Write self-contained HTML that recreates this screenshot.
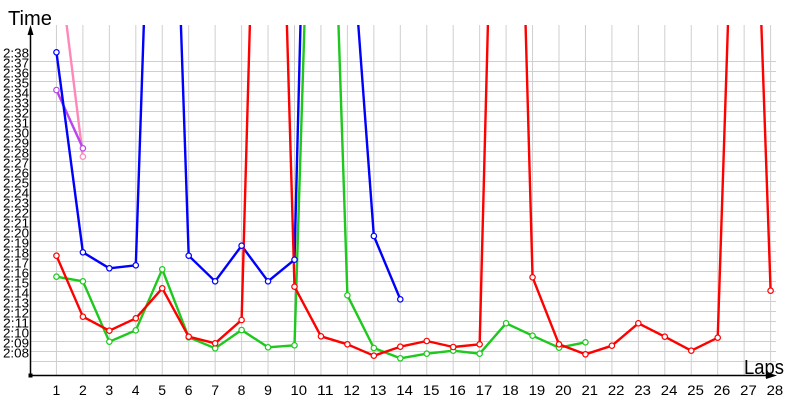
<!DOCTYPE html>
<html>
<head>
<meta charset="utf-8">
<style>
html,body{margin:0;padding:0;background:#fff;}
svg{display:block;}
text{font-family:"Liberation Sans",Arial,sans-serif;fill:#000;}
</style>
</head>
<body>
<svg width="800" height="400" viewBox="0 0 800 400" xmlns="http://www.w3.org/2000/svg">
<defs>
<clipPath id="plot"><rect x="30" y="25" width="770" height="351"/></clipPath>
</defs>
<rect x="0" y="0" width="800" height="400" fill="#fff"/>
<g stroke="#cfcfcf" stroke-width="1" fill="none">
<path d="M56.45 25V375M82.9 25V375M109.35 25V375M135.8 25V375M162.25 25V375M188.7 25V375M215.15 25V375M241.6 25V375M268.05 25V375M294.5 25V375M320.95 25V375M347.4 25V375M373.85 25V375M400.3 25V375M426.75 25V375M453.2 25V375M479.65 25V375M506.1 25V375M532.55 25V375M559 25V375M585.45 25V375M611.9 25V375M638.35 25V375M664.8 25V375M691.25 25V375M717.7 25V375M744.15 25V375M770.6 25V375"/>
<path d="M30 61.5H776M30 71.5H776M30 81.5H776M30 91.5H776M30 101.5H776M30 111.5H776M30 121.5H776M30 131.5H776M30 141.5H776M30 151.5H776M30 161.5H776M30 171.5H776M30 181.5H776M30 191.5H776M30 201.5H776M30 211.5H776M30 221.5H776M30 231.5H776M30 241.5H776M30 251.5H776M30 261.5H776M30 271.5H776M30 281.5H776M30 291.5H776M30 301.5H776M30 311.5H776M30 321.5H776M30 331.5H776M30 341.5H776M30 351.5H776M30 361.5H776"/>
</g>

<g clip-path="url(#plot)" fill="none" stroke-width="2.4" stroke-linejoin="round">
<polyline stroke="#ff88b8" points="56.45,-57.5 82.9,156.7"/>
<polyline stroke="#bb44ee" points="56.45,90 82.9,148.3"/>
<polyline stroke="#0000ff" points="56.45,52.3 82.9,252.3 109.35,268.3 135.8,265.3 162.25,-527.7 188.7,255.7 215.15,281.3 241.6,245.7 268.05,281.3 294.5,259.7 320.95,-781 347.4,-123 373.85,236 400.3,299.3"/>
<polyline stroke="#1ec81e" points="56.45,276.7 82.9,281.3 109.35,341.7 135.8,330.3 162.25,269.3 188.7,337.3 215.15,348.3 241.6,330 268.05,347.3 294.5,345.3 320.95,-507 347.4,295.3 373.85,348 400.3,358.3 426.75,353.7 453.2,350.7 479.65,353.7 506.1,323.3 532.55,335.7 559,347.7 585.45,342.3"/>
<polyline stroke="#ff0000" points="56.45,255.7 82.9,316.7 109.35,330.7 135.8,318.3 162.25,288.3 188.7,336.7 215.15,343.3 241.6,320 268.05,-625 294.5,286.7 320.95,336.3 347.4,344.3 373.85,355.7 400.3,346.7 426.75,341 453.2,347 479.65,344.3 506.1,-679 532.55,277.3 559,344.3 585.45,354.3 611.9,345.7 638.35,323.3 664.8,336.7 691.25,350.7 717.7,337.7 744.15,-470 770.6,290.7"/>
</g>

<g fill="#fff" stroke-width="1.2">
<g stroke="#ff88b8"><circle cx="82.9" cy="156.7" r="2.7"/></g>
<g stroke="#bb44ee"><circle cx="56.45" cy="90" r="2.7"/><circle cx="82.9" cy="148.3" r="2.7"/></g>
<g stroke="#0000ff">
<circle cx="56.45" cy="52.3" r="2.7"/><circle cx="82.9" cy="252.3" r="2.7"/><circle cx="109.35" cy="268.3" r="2.7"/><circle cx="135.8" cy="265.3" r="2.7"/><circle cx="188.7" cy="255.7" r="2.7"/><circle cx="215.15" cy="281.3" r="2.7"/><circle cx="241.6" cy="245.7" r="2.7"/><circle cx="268.05" cy="281.3" r="2.7"/><circle cx="294.5" cy="259.7" r="2.7"/><circle cx="373.85" cy="236" r="2.7"/><circle cx="400.3" cy="299.3" r="2.7"/>
</g>
<g stroke="#1ec81e">
<circle cx="56.45" cy="276.7" r="2.7"/><circle cx="82.9" cy="281.3" r="2.7"/><circle cx="109.35" cy="341.7" r="2.7"/><circle cx="135.8" cy="330.3" r="2.7"/><circle cx="162.25" cy="269.3" r="2.7"/><circle cx="188.7" cy="337.3" r="2.7"/><circle cx="215.15" cy="348.3" r="2.7"/><circle cx="241.6" cy="330" r="2.7"/><circle cx="268.05" cy="347.3" r="2.7"/><circle cx="294.5" cy="345.3" r="2.7"/><circle cx="347.4" cy="295.3" r="2.7"/><circle cx="373.85" cy="348" r="2.7"/><circle cx="400.3" cy="358.3" r="2.7"/><circle cx="426.75" cy="353.7" r="2.7"/><circle cx="453.2" cy="350.7" r="2.7"/><circle cx="479.65" cy="353.7" r="2.7"/><circle cx="506.1" cy="323.3" r="2.7"/><circle cx="532.55" cy="335.7" r="2.7"/><circle cx="559" cy="347.7" r="2.7"/><circle cx="585.45" cy="342.3" r="2.7"/>
</g>
<g stroke="#ff0000">
<circle cx="56.45" cy="255.7" r="2.7"/><circle cx="82.9" cy="316.7" r="2.7"/><circle cx="109.35" cy="330.7" r="2.7"/><circle cx="135.8" cy="318.3" r="2.7"/><circle cx="162.25" cy="288.3" r="2.7"/><circle cx="188.7" cy="336.7" r="2.7"/><circle cx="215.15" cy="343.3" r="2.7"/><circle cx="241.6" cy="320" r="2.7"/><circle cx="294.5" cy="286.7" r="2.7"/><circle cx="320.95" cy="336.3" r="2.7"/><circle cx="347.4" cy="344.3" r="2.7"/><circle cx="373.85" cy="355.7" r="2.7"/><circle cx="400.3" cy="346.7" r="2.7"/><circle cx="426.75" cy="341" r="2.7"/><circle cx="453.2" cy="347" r="2.7"/><circle cx="479.65" cy="344.3" r="2.7"/><circle cx="532.55" cy="277.3" r="2.7"/><circle cx="559" cy="344.3" r="2.7"/><circle cx="585.45" cy="354.3" r="2.7"/><circle cx="611.9" cy="345.7" r="2.7"/><circle cx="638.35" cy="323.3" r="2.7"/><circle cx="664.8" cy="336.7" r="2.7"/><circle cx="691.25" cy="350.7" r="2.7"/><circle cx="717.7" cy="337.7" r="2.7"/><circle cx="770.6" cy="290.7" r="2.7"/>
</g>
</g>

<!-- axes -->
<g stroke="#000" stroke-width="1.5" fill="none">
<path d="M30.5 34V376M30 375.5H768"/>
</g>
<path d="M30.5 25L27.5 35L33.5 35Z" fill="#000"/>
<path d="M777 375.5L766 372L766 379Z" fill="#000"/>
<rect x="28.5" y="373.5" width="4" height="4" fill="#000"/>

<!-- y labels -->
<g font-size="13">
<text x="3" y="57.5" textLength="26" lengthAdjust="spacingAndGlyphs">2:38</text>
<text x="3" y="67.5" textLength="26" lengthAdjust="spacingAndGlyphs">2:37</text>
<text x="3" y="77.5" textLength="26" lengthAdjust="spacingAndGlyphs">2:36</text>
<text x="3" y="87.5" textLength="26" lengthAdjust="spacingAndGlyphs">2:35</text>
<text x="3" y="97.5" textLength="26" lengthAdjust="spacingAndGlyphs">2:34</text>
<text x="3" y="107.5" textLength="26" lengthAdjust="spacingAndGlyphs">2:33</text>
<text x="3" y="117.5" textLength="26" lengthAdjust="spacingAndGlyphs">2:32</text>
<text x="3" y="127.5" textLength="26" lengthAdjust="spacingAndGlyphs">2:31</text>
<text x="3" y="137.5" textLength="26" lengthAdjust="spacingAndGlyphs">2:30</text>
<text x="3" y="147.5" textLength="26" lengthAdjust="spacingAndGlyphs">2:29</text>
<text x="3" y="157.5" textLength="26" lengthAdjust="spacingAndGlyphs">2:28</text>
<text x="3" y="167.5" textLength="26" lengthAdjust="spacingAndGlyphs">2:27</text>
<text x="3" y="177.5" textLength="26" lengthAdjust="spacingAndGlyphs">2:26</text>
<text x="3" y="187.5" textLength="26" lengthAdjust="spacingAndGlyphs">2:25</text>
<text x="3" y="197.5" textLength="26" lengthAdjust="spacingAndGlyphs">2:24</text>
<text x="3" y="207.5" textLength="26" lengthAdjust="spacingAndGlyphs">2:23</text>
<text x="3" y="217.5" textLength="26" lengthAdjust="spacingAndGlyphs">2:22</text>
<text x="3" y="227.5" textLength="26" lengthAdjust="spacingAndGlyphs">2:21</text>
<text x="3" y="237.5" textLength="26" lengthAdjust="spacingAndGlyphs">2:20</text>
<text x="3" y="247.5" textLength="26" lengthAdjust="spacingAndGlyphs">2:19</text>
<text x="3" y="257.5" textLength="26" lengthAdjust="spacingAndGlyphs">2:18</text>
<text x="3" y="267.5" textLength="26" lengthAdjust="spacingAndGlyphs">2:17</text>
<text x="3" y="277.5" textLength="26" lengthAdjust="spacingAndGlyphs">2:16</text>
<text x="3" y="287.5" textLength="26" lengthAdjust="spacingAndGlyphs">2:15</text>
<text x="3" y="297.5" textLength="26" lengthAdjust="spacingAndGlyphs">2:14</text>
<text x="3" y="307.5" textLength="26" lengthAdjust="spacingAndGlyphs">2:13</text>
<text x="3" y="317.5" textLength="26" lengthAdjust="spacingAndGlyphs">2:12</text>
<text x="3" y="327.5" textLength="26" lengthAdjust="spacingAndGlyphs">2:11</text>
<text x="3" y="337.5" textLength="26" lengthAdjust="spacingAndGlyphs">2:10</text>
<text x="3" y="347.5" textLength="26" lengthAdjust="spacingAndGlyphs">2:09</text>
<text x="3" y="357.5" textLength="26" lengthAdjust="spacingAndGlyphs">2:08</text>
</g>

<!-- x labels -->
<g font-size="14">
<text x="52.5" y="395">1</text>
<text x="79" y="395">2</text>
<text x="105.4" y="395">3</text>
<text x="131.8" y="395">4</text>
<text x="158.3" y="395">5</text>
<text x="184.7" y="395">6</text>
<text x="211.2" y="395">7</text>
<text x="237.6" y="395">8</text>
<text x="264.1" y="395">9</text>
<text x="290.5" y="395" textLength="16.6" lengthAdjust="spacingAndGlyphs">10</text>
<text x="317" y="395" textLength="16.6" lengthAdjust="spacingAndGlyphs">11</text>
<text x="343.4" y="395" textLength="16.6" lengthAdjust="spacingAndGlyphs">12</text>
<text x="369.9" y="395" textLength="16.6" lengthAdjust="spacingAndGlyphs">13</text>
<text x="396.3" y="395" textLength="16.6" lengthAdjust="spacingAndGlyphs">14</text>
<text x="422.8" y="395" textLength="16.6" lengthAdjust="spacingAndGlyphs">15</text>
<text x="449.2" y="395" textLength="16.6" lengthAdjust="spacingAndGlyphs">16</text>
<text x="475.7" y="395" textLength="16.6" lengthAdjust="spacingAndGlyphs">17</text>
<text x="502.1" y="395" textLength="16.6" lengthAdjust="spacingAndGlyphs">18</text>
<text x="528.6" y="395" textLength="16.6" lengthAdjust="spacingAndGlyphs">19</text>
<text x="555" y="395" textLength="16.6" lengthAdjust="spacingAndGlyphs">20</text>
<text x="581.5" y="395" textLength="16.6" lengthAdjust="spacingAndGlyphs">21</text>
<text x="607.9" y="395" textLength="16.6" lengthAdjust="spacingAndGlyphs">22</text>
<text x="634.4" y="395" textLength="16.6" lengthAdjust="spacingAndGlyphs">23</text>
<text x="660.8" y="395" textLength="16.6" lengthAdjust="spacingAndGlyphs">24</text>
<text x="687.3" y="395" textLength="16.6" lengthAdjust="spacingAndGlyphs">25</text>
<text x="713.7" y="395" textLength="16.6" lengthAdjust="spacingAndGlyphs">26</text>
<text x="740.2" y="395" textLength="16.6" lengthAdjust="spacingAndGlyphs">27</text>
<text x="766.6" y="395" textLength="16.6" lengthAdjust="spacingAndGlyphs">28</text>
</g>

<text x="8" y="25" font-size="20" textLength="44" lengthAdjust="spacingAndGlyphs">Time</text>
<text x="744" y="374" font-size="20" textLength="40" lengthAdjust="spacingAndGlyphs">Laps</text>
</svg>
</body>
</html>
